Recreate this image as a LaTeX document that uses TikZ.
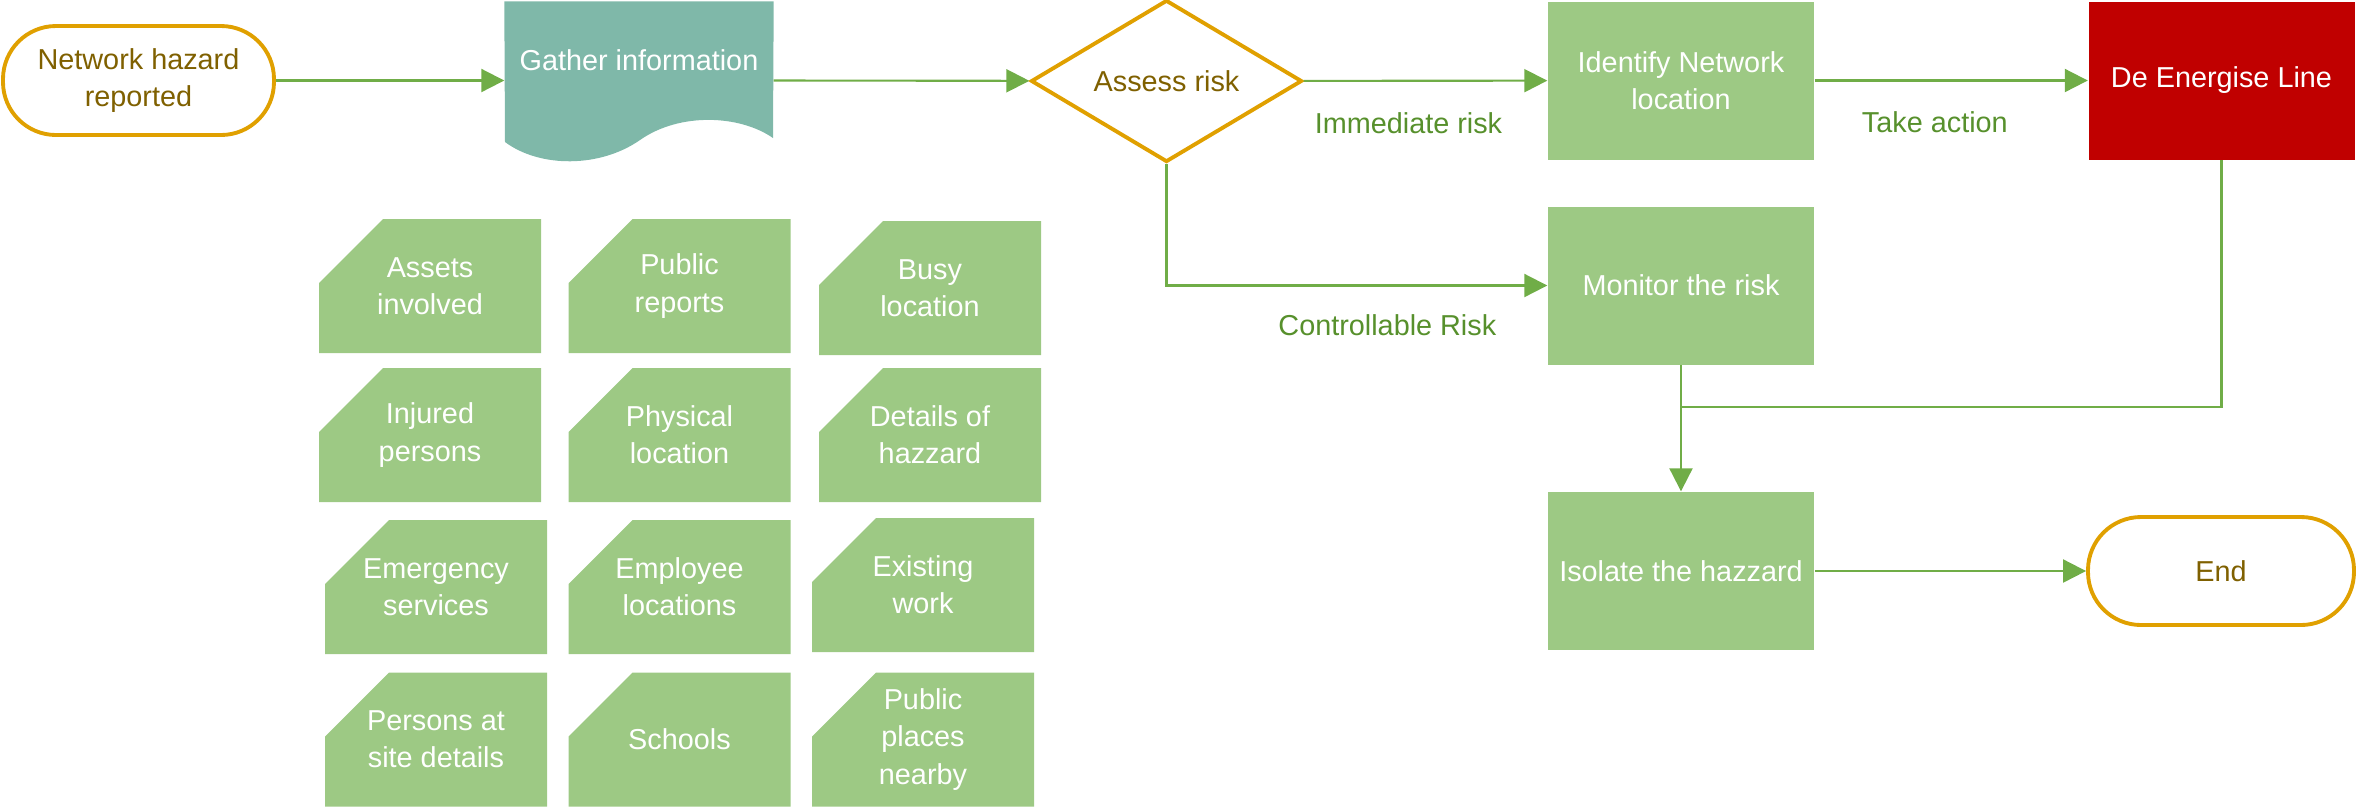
\documentclass[tikz,border=0pt]{standalone}
\usepackage{fontspec}
\setmainfont{Liberation Sans}
\usepackage{tikz}
\usetikzlibrary{arrows.meta}
\tikzset{>={Triangle[length=0.23cm,width=0.23cm]}}
\usetikzlibrary{backgrounds}
\usetikzlibrary{shapes,positioning}
\definecolor{cardColor}{HTML}{9DC984}
\definecolor{docColor}{HTML}{7FB8A9}
\definecolor{stopColor}{HTML}{C00000}
\definecolor{termColor}{HTML}{E0A000}
\definecolor{brownText}{HTML}{7F6000}
\definecolor{lineColor}{HTML}{70AD47}
\definecolor{labelColor}{HTML}{57902C}
\tikzset{
  terminal/.style={draw=termColor,line width=1.1pt,rounded corners=0.53cm,
    minimum width=2.71cm,minimum height=1.09cm,text=brownText,align=center},
  process/.style={fill=cardColor,text=white,minimum width=2.66cm,
    minimum height=1.58cm,align=center},
  card/.style={text=white,inner sep=0pt,minimum width=2.22cm,
    minimum height=1.34cm,align=center,
    path picture={\fill [cardColor] (path picture bounding box.south west)
      -- ([yshift=-0.64cm]path picture bounding box.north west)
      -- ([xshift=0.64cm]path picture bounding box.north west)
      -- (path picture bounding box.north east)
      -- (path picture bounding box.south east) -- cycle;}},
  flow/.style={lineColor,line width=0.6pt,->},
  lbl/.style={text=labelColor}
}

\begin{document}
\begin{tikzpicture}[font=\fontsize{8.2pt}{10.6pt}\selectfont]
  \useasboundingbox (0,0) rectangle (23.57,-8.07);

  % main flow
  \node [terminal] (start) at (1.385,-0.805) {Network hazard\\reported};
  \node [text=white,minimum width=2.68cm,minimum height=1.16cm] (gather)
    at (6.39,-0.60) {Gather information};
  \node [diamond,draw=termColor,line width=1.1pt,aspect=1.67,inner sep=0pt,
    minimum width=2.71cm,minimum height=1.62cm,text=brownText] (assess)
    at (11.665,-0.81) {Assess risk};
  \node [process] (identify) at (16.81,-0.805) {Identify Network\\location};
  \node [process,fill=stopColor] (deenergise) at (22.215,-0.805) {De Energise Line};
  \node [process] (monitor) at (16.81,-2.855) {Monitor the risk};
  \node [process] (isolate) at (16.81,-5.71) {Isolate the hazzard};
  \node [terminal,minimum width=2.66cm,minimum height=1.08cm] (finish)
    at (22.21,-5.71) {End};

  % document shape behind the text
  \begin{scope}[on background layer]
    \fill [docColor] (gather.north west) -- (gather.north east) -- (7.73,-1.38)
      .. controls (7.40,-1.15) and (6.80,-1.12) .. (6.40,-1.40)
      .. controls (6.00,-1.68) and (5.40,-1.68) .. (5.05,-1.42) -- cycle;
  \end{scope}

  % things to gather
  \node [card] (assets) at (4.30,-2.86) {Assets\\involved};
  \node [card] (reports) at (6.795,-2.86) {Public\\reports};
  \node [card] (busy) at (9.30,-2.88) {Busy\\location};
  \node [card] (injured) at (4.30,-4.35) {Injured\\persons};
  \node [card] (physical) at (6.795,-4.35) {Physical\\location};
  \node [card] (details) at (9.30,-4.35) {Details of\\hazzard};
  \node [card] (emergency) at (4.36,-5.87) {Emergency\\services};
  \node [card] (employee) at (6.795,-5.87) {Employee\\locations};
  \node [card] (existing) at (9.23,-5.85) {Existing\\work};
  \node [card] (persons) at (4.36,-7.395) {Persons at\\site details};
  \node [card] (schools) at (6.795,-7.395) {Schools};
  \node [card] (places) at (9.23,-7.395) {Public\\places\\nearby};

  % connectors
  \draw [flow] (start.east) -- (start.east -| gather.west);
  \draw [flow] (start.east -| gather.east) -- (assess);
  \draw [flow] (assess) -- node [lbl,pos=0.43,yshift=-0.42cm] (immLbl)
    {Immediate risk} (identify);
  \draw [flow] (identify) -- node [lbl,pos=0.44,yshift=-0.42cm] (actLbl)
    {Take action} (deenergise);
  \draw [flow] (assess.south) |- node [lbl,pos=0.79,yshift=-0.40cm] (ctrlLbl)
    {Controllable Risk} (monitor.west);
  \draw [flow] (monitor) -- (isolate);
  \coordinate (join) at (16.81,-4.07);
  \draw [lineColor,line width=0.6pt] (deenergise.south) |- (join);
  \draw [flow] (isolate) -- (finish);

\end{tikzpicture}
\end{document}
